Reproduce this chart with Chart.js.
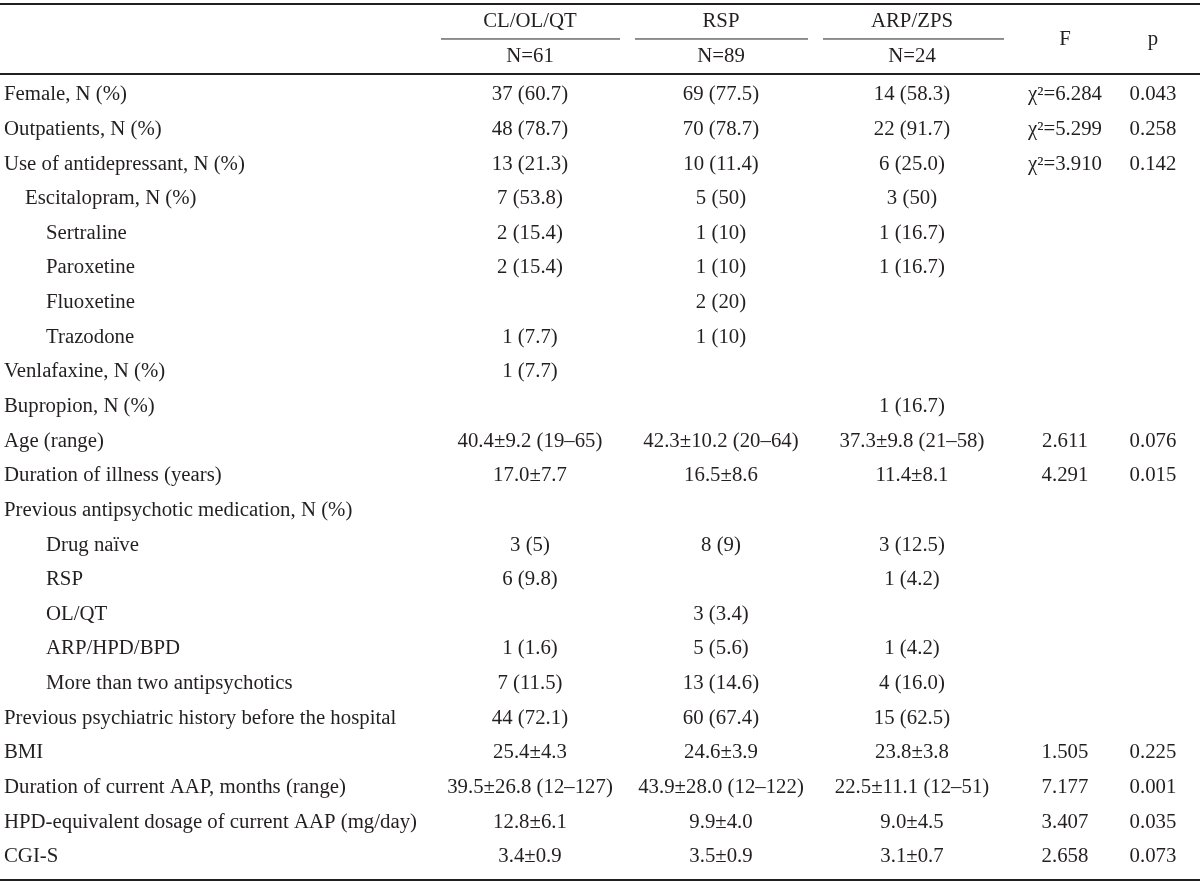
<!DOCTYPE html>
<html>
<head>
<meta charset="utf-8">
<script src="https://cdn.jsdelivr.net/npm/chart.js@4"></script>
<style>
  html, body { margin: 0; padding: 0; background: #fff; }
  #wrap { width: 1200px; height: 886px; }
</style>
</head>
<body>
<div id="wrap"><canvas id="tableChart" width="1200" height="886"></canvas></div>
<script>
// table contents
const groupNames = ['CL/OL/QT', 'RSP', 'ARP/ZPS'];
const groupSizes = ['N=61', 'N=89', 'N=24'];
const statHeaders = ['F', 'p'];

const rowLabels = [
    'Female, N (%)', 'Outpatients, N (%)', 'Use of antidepressant, N (%)', 'Escitalopram, N (%)',
    'Sertraline', 'Paroxetine', 'Fluoxetine', 'Trazodone', 'Venlafaxine, N (%)', 'Bupropion, N (%)',
    'Age (range)', 'Duration of illness (years)', 'Previous antipsychotic medication, N (%)',
    'Drug naïve', 'RSP', 'OL/QT', 'ARP/HPD/BPD', 'More than two antipsychotics',
    'Previous psychiatric history before the hospital', 'BMI',
    'Duration of current AAP, months (range)', 'HPD-equivalent dosage of current AAP (mg/day)', 'CGI-S'
];
const rowIndent = [0, 0, 0, 1, 2, 2, 2, 2, 0, 0, 0, 0, 0, 2, 2, 2, 2, 2, 0, 0, 0, 0, 0];

const clValues = [
    '37 (60.7)', '48 (78.7)', '13 (21.3)', '7 (53.8)', '2 (15.4)', '2 (15.4)', '', '1 (7.7)', '1 (7.7)', '',
    '40.4±9.2 (19–65)', '17.0±7.7', '', '3 (5)', '6 (9.8)', '', '1 (1.6)', '7 (11.5)', '44 (72.1)',
    '25.4±4.3', '39.5±26.8 (12–127)', '12.8±6.1', '3.4±0.9'
];
const rspValues = [
    '69 (77.5)', '70 (78.7)', '10 (11.4)', '5 (50)', '1 (10)', '1 (10)', '2 (20)', '1 (10)', '', '',
    '42.3±10.2 (20–64)', '16.5±8.6', '', '8 (9)', '', '3 (3.4)', '5 (5.6)', '13 (14.6)', '60 (67.4)',
    '24.6±3.9', '43.9±28.0 (12–122)', '9.9±4.0', '3.5±0.9'
];
const arpValues = [
    '14 (58.3)', '22 (91.7)', '6 (25.0)', '3 (50)', '1 (16.7)', '1 (16.7)', '', '', '', '1 (16.7)',
    '37.3±9.8 (21–58)', '11.4±8.1', '', '3 (12.5)', '1 (4.2)', '', '1 (4.2)', '4 (16.0)', '15 (62.5)',
    '23.8±3.8', '22.5±11.1 (12–51)', '9.0±4.5', '3.1±0.7'
];
const fValues = [
    'χ²=6.284', 'χ²=5.299', 'χ²=3.910', '', '', '', '', '', '', '',
    '2.611', '4.291', '', '', '', '', '', '', '',
    '1.505', '7.177', '3.407', '2.658'
];
const pValues = [
    '0.043', '0.258', '0.142', '', '', '', '', '', '', '',
    '0.076', '0.015', '', '', '', '', '', '', '',
    '0.225', '0.001', '0.035', '0.073'
];

// layout (pixel units on x, row units on y)
const labelX = 4;
const indentStep = 21;
const colCenters = [530, 721, 912, 1065, 1153];
const groupSpans = [[441, 620], [635, 808], [823, 1004]];
const headRow1 = -2.107, headRow2 = -1.097, headMid = -1.588;
const topRule = -2.627, subRule = -1.617, headRule = -0.606, bottomRule = 22.66;
const FONT = '20px "Liberation Serif", "DejaVu Serif", serif';
const STRETCH = 1.04;   // the original face is a bit wider than Times
const INK = '#231f20';

const columns = [clValues, rspValues, arpValues, fValues, pValues];
const datasets = columns.map((vals, c) => ({
    label: c < 3 ? groupNames[c] : statHeaders[c - 3],
    texts: vals,
    data: vals.map((v, i) => ({ x: colCenters[c], y: i })),
    pointRadius: 0
}));
datasets.push({
    label: 'rows',
    texts: rowLabels,
    data: rowLabels.map((v, i) => ({ x: labelX + rowIndent[i] * indentStep, y: i })),
    pointRadius: 0,
    align: 'left'
});

function drawText(ctx, t, x, y) {
    ctx.save();
    ctx.translate(x, y);
    ctx.scale(STRETCH, 1);
    ctx.fillText(t, 0, 0);
    ctx.restore();
}

const tablePlugin = {
    id: 'tableText',
    afterDatasetsDraw(chart) {
        const ctx = chart.ctx;
        const xs = chart.scales.x, ys = chart.scales.y;
        ctx.save();
        ctx.fillStyle = INK;
        ctx.strokeStyle = INK;
        ctx.font = FONT;
        ctx.textBaseline = 'middle';

        chart.data.datasets.forEach((ds, d) => {
            const meta = chart.getDatasetMeta(d);
            ctx.textAlign = ds.align || 'center';
            meta.data.forEach((pt, i) => {
                const t = ds.texts[i];
                if (t) drawText(ctx, t, pt.x, pt.y);
            });
        });

        // header texts
        ctx.textAlign = 'center';
        groupNames.forEach((g, i) => {
            drawText(ctx, g, xs.getPixelForValue(colCenters[i]), ys.getPixelForValue(headRow1));
            drawText(ctx, groupSizes[i], xs.getPixelForValue(colCenters[i]), ys.getPixelForValue(headRow2));
        });
        statHeaders.forEach((h, i) => {
            drawText(ctx, h, xs.getPixelForValue(colCenters[3 + i]), ys.getPixelForValue(headMid));
        });

        // rules
        const hline = (x0, x1, yv, w) => {
            const y = ys.getPixelForValue(yv);
            ctx.lineWidth = w;
            ctx.beginPath();
            ctx.moveTo(xs.getPixelForValue(x0), y);
            ctx.lineTo(xs.getPixelForValue(x1), y);
            ctx.stroke();
        };
        hline(0, 1200, topRule, 2);
        hline(0, 1200, headRule, 2);
        hline(0, 1200, bottomRule, 2);
        groupSpans.forEach(s => hline(s[0], s[1], subRule, 1));
        ctx.restore();
    }
};

new Chart(document.getElementById('tableChart'), {
    type: 'scatter',
    data: { datasets: datasets },
    options: {
        responsive: false,
        animation: false,
        layout: { padding: 0 },
        plugins: { legend: { display: false }, tooltip: { enabled: false } },
        scales: {
            x: { type: 'linear', min: 0, max: 1200, display: false },
            y: { type: 'linear', min: -2.742, max: 22.835, reverse: true, display: false }
        }
    },
    plugins: [tablePlugin]
});
</script>
</body>
</html>
